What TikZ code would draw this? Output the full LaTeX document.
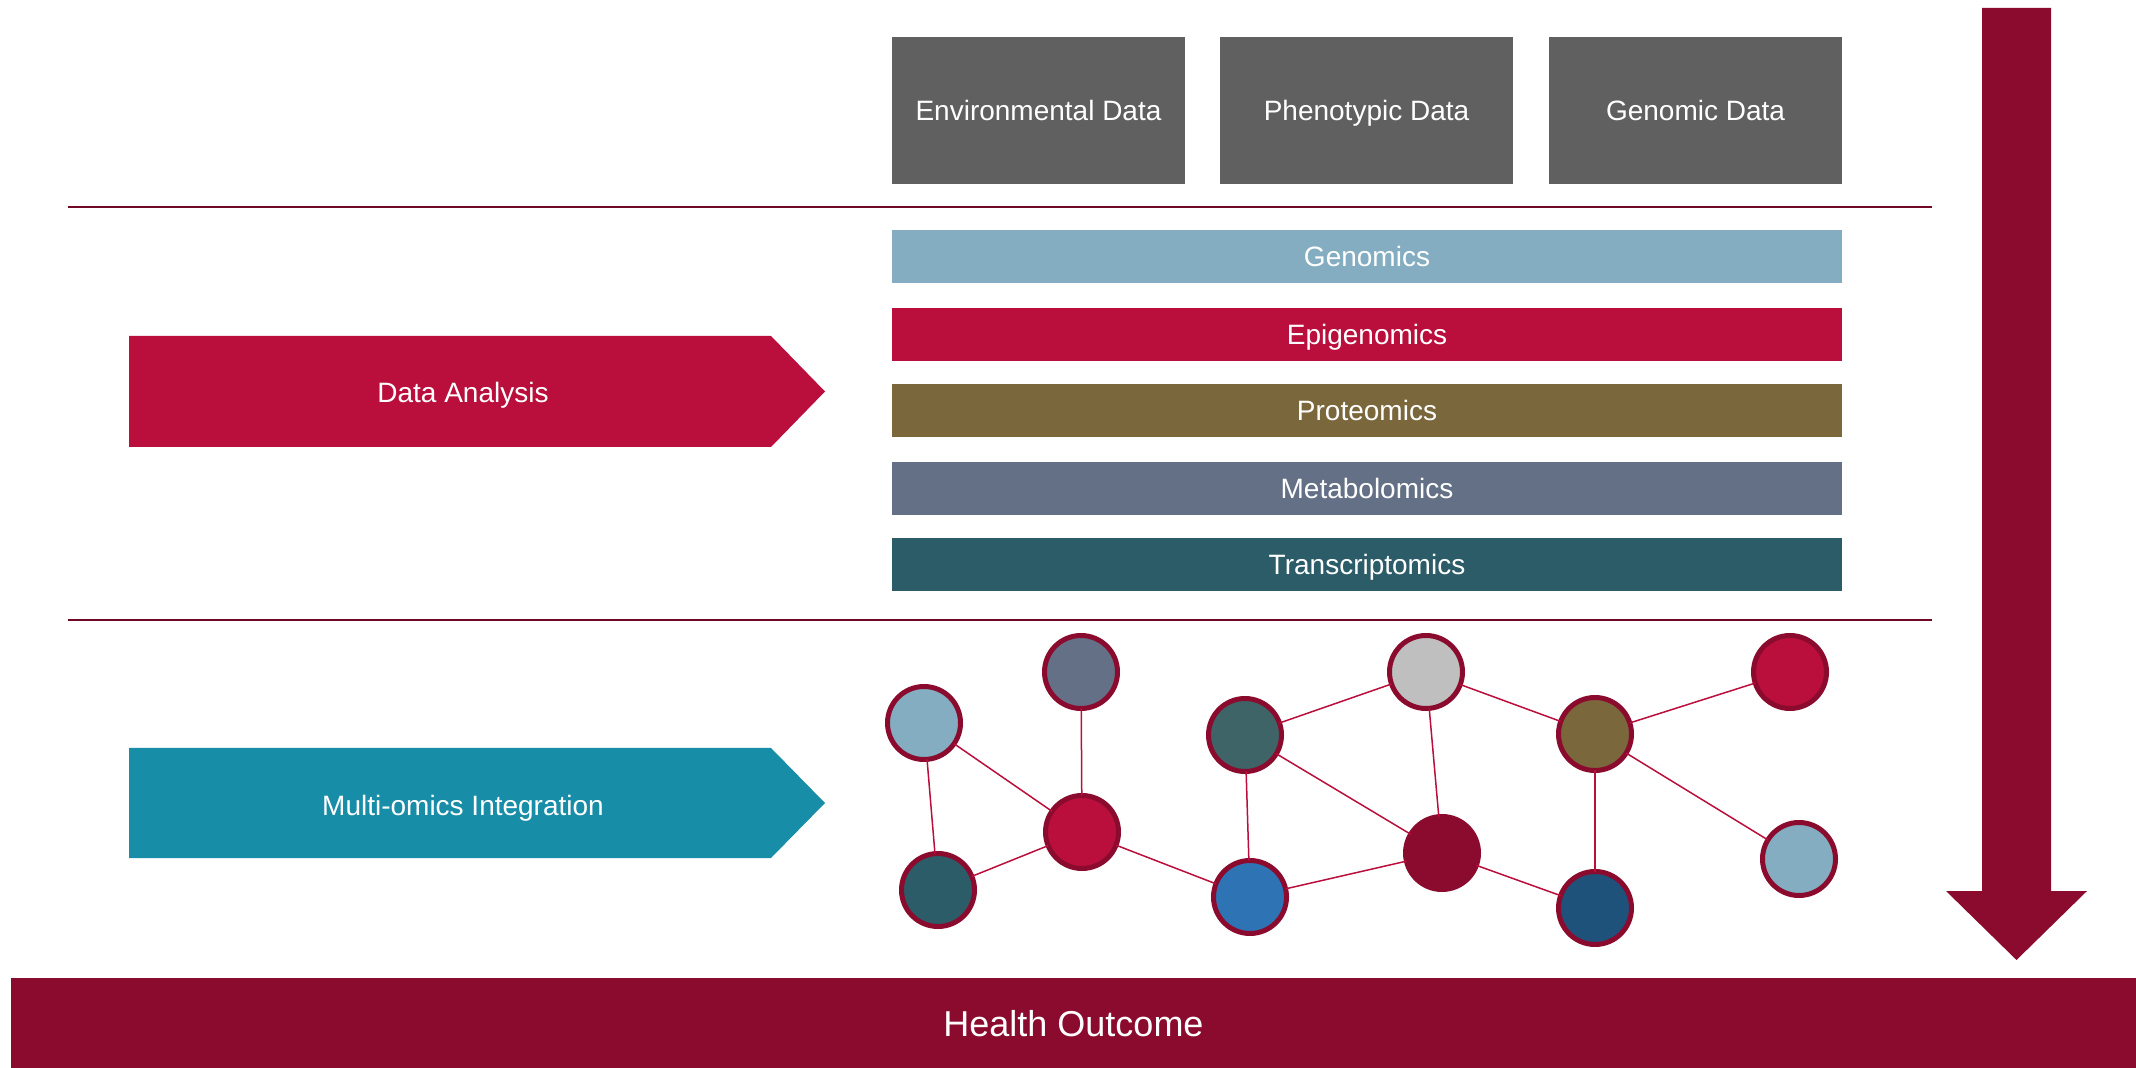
\documentclass[tikz,border=0pt]{standalone}
\usepackage{fontspec}
\setmainfont{Liberation Sans}
\usetikzlibrary{positioning}
\definecolor{boxgrey}{HTML}{606060}
\definecolor{maroon}{HTML}{8B0B2E}
\definecolor{crimson}{HTML}{BA0F3C}
\definecolor{skyblue}{HTML}{84ADC1}
\definecolor{olive}{HTML}{7B673C}
\definecolor{slate}{HTML}{637086}
\definecolor{deepteal}{HTML}{2B5C68}
\definecolor{teal}{HTML}{188DA8}
\definecolor{greyteal}{HTML}{3F6468}
\definecolor{midblue}{HTML}{2E74B5}
\definecolor{lightgrey}{HTML}{BFBFBF}
\definecolor{navy}{HTML}{1F527A}

\begin{document}
\begin{tikzpicture}[x=0.5pt,y=-0.5pt,
    every node/.style={inner sep=0pt,outer sep=0pt,text=white,text height=10pt,text depth=0pt,font=\fontsize{14}{16}\selectfont},
    databox/.style={fill=boxgrey,minimum width=146.5pt,minimum height=73.5pt},
    omicsbar/.style={minimum width=475pt,minimum height=26.5pt},
    netnode/.style={circle,draw=maroon,line width=2.5pt,minimum size=36.5pt},
    netedge/.style={crimson,line width=0.75pt},
    sepline/.style={maroon!80!black,line width=1pt}]
    \useasboundingbox (0,0) rectangle (2136,1068);
    % input data
    \node[databox] (env) at (1038.5,110.5) {Environmental Data};
    \node[databox] (pheno) at (1366.5,110.5) {Phenotypic Data};
    \node[databox] (geno) at (1695.5,110.5) {Genomic Data};
    \draw[sepline] (68,207) -- (1932,207);
    \draw[sepline] (68,620) -- (1932,620);
    % omics layers
    \node[omicsbar,fill=skyblue] (genomics) at (1367,256.5) {Genomics};
    \node[omicsbar,fill=crimson] (epigenomics) at (1367,334.5) {Epigenomics};
    \node[omicsbar,fill=olive] (proteomics) at (1367,410.5) {Proteomics};
    \node[omicsbar,fill=slate] (metabolomics) at (1367,488.5) {Metabolomics};
    \node[omicsbar,fill=deepteal] (transcriptomics) at (1367,564.5) {Transcriptomics};
    % stages
    \fill[crimson] (129,336) -- (771,336) -- (825,391.5) -- (771,447) -- (129,447) -- cycle;
    \node (analysis) at (463,393) {Data Analysis};
    \fill[teal] (129,748) -- (771,748) -- (825,803) -- (771,858) -- (129,858) -- cycle;
    \node (integration) at (463,805) {Multi-omics Integration};
    % network
    \node[netnode,fill=skyblue] (n1) at (924,723) {};
    \node[netnode,fill=slate] (n2) at (1081,672) {};
    \node[netnode,fill=crimson] (n3) at (1082,832) {};
    \node[netnode,fill=deepteal] (n4) at (938,890) {};
    \node[netnode,fill=greyteal] (n5) at (1245,735) {};
    \node[netnode,fill=midblue] (n6) at (1250,897) {};
    \node[netnode,fill=lightgrey] (n7) at (1426,672) {};
    \node[netnode,fill=maroon] (n8) at (1442,853) {};
    \node[netnode,fill=olive] (n9) at (1595,734) {};
    \node[netnode,fill=crimson] (n10) at (1790,672) {};
    \node[netnode,fill=navy] (n11) at (1595,908) {};
    \node[netnode,fill=skyblue] (n12) at (1799,859) {};
    \foreach \a/\b in {n1/n4,n1/n3,n2/n3,n3/n4,n3/n6,n5/n6,n5/n7,n5/n8,n7/n8,n7/n9,n6/n8,n8/n11,n9/n11,n9/n10,n9/n12}
        \draw[netedge] (\a) -- (\b);
    % outcome
    \fill[maroon] (1982,8) -- (2051,8) -- (2051,891) -- (2087,891) -- (2016.5,960) -- (1946,891) -- (1982,891) -- cycle;
    \node[fill=maroon,minimum width=1062.5pt,minimum height=45pt,text height=13pt,font=\fontsize{18}{20}\selectfont] (outcome) at (1073.5,1023) {Health Outcome};
\end{tikzpicture}
\end{document}
